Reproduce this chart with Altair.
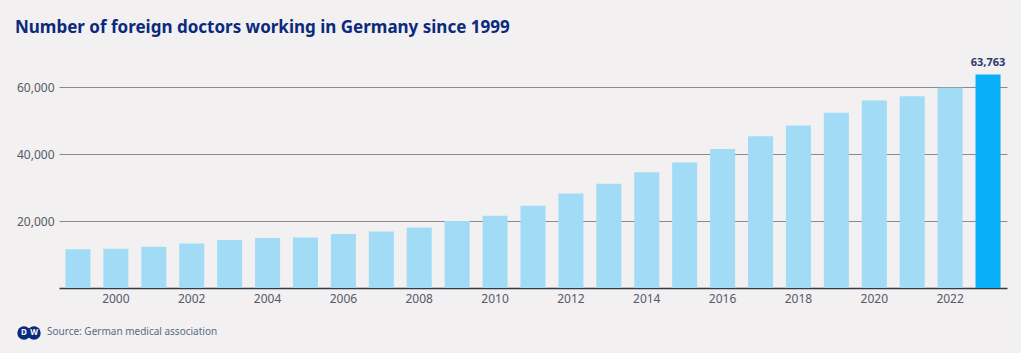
import altair as alt
import pandas as pd

years = list(range(1999, 2024))
doctors = [11550, 11700, 12300, 13300, 14300, 14900, 15100, 16100, 16900, 18100,
           20000, 21600, 24600, 28200, 31100, 34600, 37500, 41500, 45300, 48500,
           52300, 56000, 57300, 59800, 63763]
highlight = [False] * 24 + [True]

df = pd.DataFrame({"year": years, "doctors": doctors, "highlight": highlight})

BG = "#f2f0f1"
NAVY = "#0b2a7c"
FONT = "Noto Sans"

x = alt.X("year:O", title=None,
          scale=alt.Scale(paddingInner=0.34, paddingOuter=0.17),
          axis=alt.Axis(labelAngle=0, ticks=False, domain=True, domainColor="#333a45",
                        domainWidth=1.5, labelColor="#555a66", labelFontSize=12,
                        labelFont=FONT, labelPadding=5,
                        labelExpr="datum.value % 2 == 0 ? datum.value : ''"))
y = alt.Y("doctors:Q", title=None,
          scale=alt.Scale(domain=[0, 66000], nice=False),
          axis=alt.Axis(values=[20000, 40000, 60000], format=",d", ticks=False,
                        domain=False, grid=True, gridColor="#8a8a90", gridWidth=1,
                        labelColor="#555a66", labelFontSize=12, labelFont=FONT,
                        labelPadding=5))

base = alt.Chart(df)

bars = base.mark_bar().encode(
    x=x, y=y,
    color=alt.Color("highlight:N", legend=None,
                    scale=alt.Scale(domain=[False, True], range=["#a2dbf5", "#0aaffa"])),
)

label = base.transform_filter("datum.highlight").mark_text(
    dy=-6, baseline="bottom", font=FONT, fontWeight="bold", fontSize=11, color="#2a3a6a"
).encode(x="year:O", y="doctors:Q", text=alt.Text("doctors:Q", format=",d"))

last = base.transform_filter("datum.highlight")

source = last.mark_text(
    align="left", baseline="middle", font=FONT, fontSize=10, color="#5c6a85"
).encode(x=alt.value(-12), y=alt.value(265),
         text=alt.value("Source: German medical association"))

logo_d = last.mark_circle(size=180, color=NAVY, opacity=1).encode(
    x=alt.value(-35), y=alt.value(266))
logo_w = last.mark_circle(size=180, color=NAVY, opacity=1).encode(
    x=alt.value(-25), y=alt.value(266))
logo_td = last.mark_text(font=FONT, fontWeight="bold", fontSize=8, color="white",
                         baseline="middle").encode(
    x=alt.value(-35), y=alt.value(266), text=alt.value("D"))
logo_tw = last.mark_text(font=FONT, fontWeight="bold", fontSize=8, color="white",
                         baseline="middle").encode(
    x=alt.value(-25), y=alt.value(266), text=alt.value("W"))

chart = alt.layer(bars, label, source, logo_d, logo_w, logo_td, logo_tw).properties(
    width=948, height=221,
    background=BG,
    padding={"left": 59, "top": 67, "right": 14, "bottom": 65},
    autosize=alt.AutoSizeParams(type="none"),
    title=alt.TitleParams("Number of foreign doctors working in Germany since 1999",
                          anchor="start", frame="group", font=FONT, fontSize=17,
                          fontWeight="bold", color=NAVY, dx=-44, offset=20),
).configure_view(stroke=None)

chart.save("out.html", embed_options={"renderer": "svg", "actions": False})
